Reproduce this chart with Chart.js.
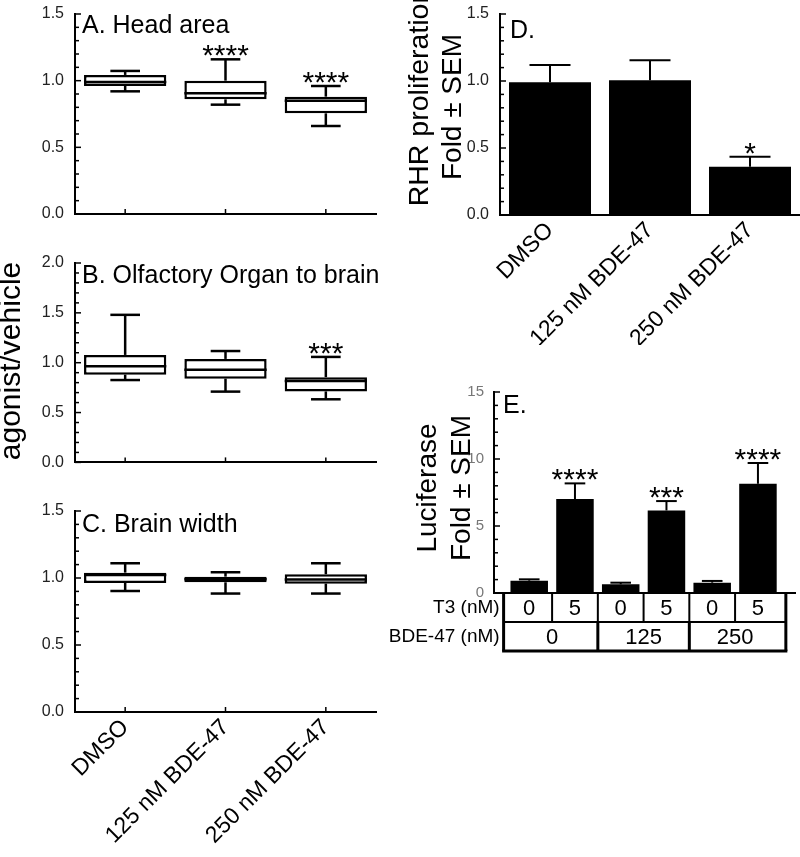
<!DOCTYPE html>
<html>
<head>
<meta charset="utf-8">
<script src="https://cdn.jsdelivr.net/npm/chart.js@4.4.0/dist/chart.umd.min.js"></script>
<style>
  body { margin: 0; background: #fff; }
  #wrap { position: relative; width: 800px; height: 857px; overflow: hidden; }
  canvas { position: absolute; }
</style>
</head>
<body>
<div id="wrap">
  <canvas id="panelA" width="390" height="230" style="left:0;top:0"></canvas>
  <canvas id="panelB" width="390" height="245" style="left:0;top:230px"></canvas>
  <canvas id="panelC" width="390" height="382" style="left:0;top:475px"></canvas>
  <canvas id="panelD" width="410" height="345" style="left:390px;top:0"></canvas>
  <canvas id="panelE" width="410" height="290" style="left:390px;top:380px"></canvas>
</div>
<script>
//data
const groups = ['DMSO', '125 nM BDE-47', '250 nM BDE-47'];

// box plots: whisker low, q1, median, q3, whisker high
const headLow = [0.92, 0.82, 0.66];
const headQ1 = [0.96, 0.86, 0.755];
const headMed = [0.99, 0.905, 0.85];
const headQ3 = [1.043, 1.0, 0.88];
const headHigh = [1.073, 1.16, 0.96];
const headStars = ['', '****', '****'];

const olfLow = [0.826, 0.71, 0.633];
const olfQ1 = [0.88, 0.84, 0.712];
const olfMed = [0.965, 0.93, 0.816];
const olfQ3 = [1.078, 1.038, 0.855];
const olfHigh = [1.48, 1.117, 1.058];
const olfStars = ['', '', '***'];

const brainLow = [0.903, 0.884, 0.884];
const brainQ1 = [0.963, 0.968, 0.958];
const brainMed = [1.022, 0.99, 0.988];
const brainQ3 = [1.04, 1.01, 1.028];
const brainHigh = [1.11, 1.043, 1.11];
const brainStars = ['', '', ''];

// D. RHR proliferation
const rhrMean = [0.99, 1.005, 0.36];
const rhrSem = [0.13, 0.15, 0.075];
const rhrStars = ['', '', '*'];

// E. luciferase
const t3Dose = ['0', '5', '0', '5', '0', '5'];
const bdeDose = ['0', '125', '250'];
const lucMean = [0.92, 7.01, 0.65, 6.16, 0.77, 8.15];
const lucSem = [0.10, 1.17, 0.12, 0.70, 0.13, 1.55];
const lucStars = ['', '****', '', '***', '', '****'];

const FONT = "'Liberation Sans', Arial, sans-serif";
Chart.defaults.font.family = FONT;
Chart.defaults.color = '#000';

function isMajor(v, step) {
  return Math.abs(v / step - Math.round(v / step)) < 1e-6;
}

function line(ctx, x1, y1, x2, y2) {
  ctx.beginPath();
  ctx.moveTo(x1, y1);
  ctx.lineTo(x2, y2);
  ctx.stroke();
}

// ticks that point into the plot
function inTicks(major, xTicks) {
  return {
    id: 'inTicks',
    afterDraw(chart) {
      const ctx = chart.ctx, area = chart.chartArea;
      const ys = chart.scales.y;
      ctx.save();
      ctx.strokeStyle = '#000';
      ctx.lineWidth = 1.5;
      ys.ticks.forEach(t => {
        const py = ys.getPixelForValue(t.value);
        line(ctx, area.left, py, area.left + (isMajor(t.value, major) ? 6 : 4), py);
      });
      if (xTicks) {
        const xs = chart.scales.x;
        xs.ticks.forEach((t, i) => {
          const px = xs.getPixelForTick(i);
          line(ctx, px, area.bottom, px, area.bottom - 5);
        });
      }
      ctx.restore();
    }
  };
}

function texts(items) {
  return {
    id: 'texts',
    afterDraw(chart) {
      const ctx = chart.ctx;
      items.forEach(t => {
        ctx.save();
        ctx.font = t.size + 'px ' + FONT;
        ctx.fillStyle = '#000';
        ctx.textAlign = t.align || 'left';
        ctx.textBaseline = t.baseline || 'alphabetic';
        ctx.translate(t.x, t.y);
        if (t.rot) ctx.rotate(t.rot * Math.PI / 180);
        ctx.fillText(t.text, 0, 0);
        ctx.restore();
      });
    }
  };
}

function drawStars(ctx, s, x, y) {
  if (!s) return;
  ctx.font = '30px ' + FONT;
  ctx.fillStyle = '#000';
  ctx.textAlign = 'center';
  ctx.textBaseline = 'alphabetic';
  ctx.fillText(s, x, y + 6);
}

function boxExtras(low, med, high, stars) {
  return {
    id: 'boxExtras',
    afterDatasetsDraw(chart) {
      const ctx = chart.ctx, ys = chart.scales.y;
      ctx.save();
      ctx.strokeStyle = '#000';
      ctx.lineWidth = 2.5;
      chart.getDatasetMeta(0).data.forEach((bar, i) => {
        const p = bar.getProps(['x', 'y', 'base', 'width'], true);
        const top = Math.min(p.y, p.base), bottom = Math.max(p.y, p.base);
        const half = p.width / 2, cap = p.width * 0.18;
        const pm = ys.getPixelForValue(med[i]);
        const ph = ys.getPixelForValue(high[i]);
        const pl = ys.getPixelForValue(low[i]);
        line(ctx, p.x - half, pm, p.x + half, pm);
        line(ctx, p.x, top, p.x, ph);
        line(ctx, p.x - cap, ph, p.x + cap, ph);
        line(ctx, p.x, bottom, p.x, pl);
        line(ctx, p.x - cap, pl, p.x + cap, pl);
        drawStars(ctx, stars[i], p.x, ph);
      });
      ctx.restore();
    }
  };
}

function errExtras(mean, sem, stars, capRatio) {
  return {
    id: 'errExtras',
    afterDatasetsDraw(chart) {
      const ctx = chart.ctx, ys = chart.scales.y;
      ctx.save();
      ctx.strokeStyle = '#000';
      ctx.lineWidth = 2;
      chart.getDatasetMeta(0).data.forEach((bar, i) => {
        const p = bar.getProps(['x', 'y', 'width'], true);
        const pe = ys.getPixelForValue(mean[i] + sem[i]);
        const cap = p.width * capRatio / 2;
        line(ctx, p.x, p.y, p.x, pe);
        line(ctx, p.x - cap, pe, p.x + cap, pe);
        drawStars(ctx, stars[i], p.x, pe);
      });
      ctx.restore();
    }
  };
}

function doseTable() {
  return {
    id: 'doseTable',
    afterDraw(chart) {
      const ctx = chart.ctx, xs = chart.scales.x, area = chart.chartArea;
      const top = area.bottom, mid = top + 29, bot = top + 58;
      const left = xs.getPixelForValue(-0.56), right = xs.getPixelForValue(5.61);
      ctx.save();
      ctx.strokeStyle = '#000';
      ctx.fillStyle = '#000';
      ctx.lineWidth = 2;
      line(ctx, left, mid, right, mid);
      ctx.font = '22px ' + FONT;
      ctx.textAlign = 'center';
      ctx.textBaseline = 'middle';
      t3Dose.forEach((d, i) => {
        if (i > 0) {
          const px = xs.getPixelForValue(i - 0.5);
          line(ctx, px, top, px, mid);
        }
        ctx.fillText(d, xs.getPixelForValue(i), (top + mid) / 2 + 1);
      });
      ctx.lineWidth = 3;
      bdeDose.forEach((d, g) => {
        if (g > 0) {
          const px = xs.getPixelForValue(g * 2 - 0.5);
          line(ctx, px, mid, px, bot);
        }
        ctx.fillText(d, xs.getPixelForValue(g * 2 + 0.5), (mid + bot) / 2 + 1);
      });
      line(ctx, left, top, left, bot);
      line(ctx, right, top, right, bot);
      line(ctx, left - 1.5, bot, right + 1.5, bot);
      ctx.font = '19px ' + FONT;
      ctx.textAlign = 'right';
      ctx.fillText('T3 (nM)', left - 4, (top + mid) / 2);
      ctx.fillText('BDE-47 (nM)', left - 4, (mid + bot) / 2);
      ctx.restore();
    }
  };
}

function boxChart(id, q1, q3, low, med, high, stars, yMax, top, xh, showLabels, items) {
  return new Chart(document.getElementById(id), {
    type: 'bar',
    data: {
      labels: groups,
      datasets: [{
        data: q1.map((v, i) => [v, q3[i]]),
        backgroundColor: '#fff',
        borderColor: '#000',
        borderWidth: 2.5,
        borderSkipped: false,
        barPercentage: 0.82,
        categoryPercentage: 1
      }]
    },
    options: {
      responsive: false,
      animation: false,
      layout: { padding: { top: top, right: 14, left: 0, bottom: 0 } },
      plugins: { legend: { display: false }, tooltip: { enabled: false } },
      scales: {
        x: {
          grid: { display: false },
          border: { color: '#000', width: 2 },
          ticks: { display: showLabels, autoSkip: false, minRotation: 45, maxRotation: 45, padding: -6, color: '#000', font: { size: 23 } },
          afterFit: s => { s.height = xh; }
        },
        y: {
          min: 0,
          max: yMax,
          grid: { display: false },
          border: { color: '#000', width: 2 },
          ticks: { stepSize: 0.1, autoSkip: false, padding: 3, color: '#222', font: { size: 16 }, callback: v => isMajor(v, 0.5) ? v.toFixed(1) : '' },
          afterFit: s => { s.width = 75; }
        }
      }
    },
    plugins: [inTicks(0.5, true), boxExtras(low, med, high, stars), texts(items)]
  });
}

boxChart('panelA', headQ1, headQ3, headLow, headMed, headHigh, headStars, 1.5, 14, 16, false, [
  { text: 'A. Head area', x: 82, y: 33, size: 25 }
]);
boxChart('panelB', olfQ1, olfQ3, olfLow, olfMed, olfHigh, olfStars, 2.0, 33, 11, false, [
  { text: 'B. Olfactory Organ to brain', x: 82, y: 53, size: 25 },
  { text: 'agonist/vehicle', x: 12, y: 131, size: 30, rot: -90, align: 'center', baseline: 'middle' }
]);
boxChart('panelC', brainQ1, brainQ3, brainLow, brainMed, brainHigh, brainStars, 1.5, 36, 145, true, [
  { text: 'C. Brain width', x: 82, y: 57, size: 25 }
]);

//panel D
new Chart(document.getElementById('panelD'), {
  type: 'bar',
  data: {
    labels: groups,
    datasets: [{
      data: rhrMean,
      backgroundColor: '#000',
      barPercentage: 0.82,
      categoryPercentage: 1
    }]
  },
  options: {
    responsive: false,
    animation: false,
    layout: { padding: { top: 14, right: 0, left: 0, bottom: 0 } },
    plugins: { legend: { display: false }, tooltip: { enabled: false } },
    scales: {
      x: {
        grid: { display: false },
        border: { color: '#000', width: 2 },
        ticks: { autoSkip: false, minRotation: 45, maxRotation: 45, padding: -6, color: '#000', font: { size: 23 } },
        afterFit: s => { s.height = 130; }
      },
      y: {
        min: 0,
        max: 1.5,
        grid: { display: false },
        border: { color: '#000', width: 2 },
        ticks: { stepSize: 0.1, autoSkip: false, padding: 3, color: '#222', font: { size: 16 }, callback: v => isMajor(v, 0.5) ? v.toFixed(1) : '' },
        afterFit: s => { s.width = 110; }
      }
    }
  },
  plugins: [inTicks(0.5, false), errExtras(rhrMean, rhrSem, rhrStars, 0.5), texts([
    { text: 'D.', x: 120, y: 38, size: 25 },
    { text: 'RHR proliferation', x: 30, y: 97, size: 28.5, rot: -90, align: 'center', baseline: 'middle' },
    { text: 'Fold ± SEM', x: 63, y: 107, size: 28, rot: -90, align: 'center', baseline: 'middle' }
  ])]
});

//panel E
new Chart(document.getElementById('panelE'), {
  type: 'bar',
  data: {
    datasets: [{
      data: lucMean.map((v, i) => ({ x: i, y: v })),
      backgroundColor: '#000',
      barPercentage: 0.82,
      categoryPercentage: 1
    }]
  },
  options: {
    responsive: false,
    animation: false,
    layout: { padding: { top: 12, right: 5, left: 0, bottom: 0 } },
    plugins: { legend: { display: false }, tooltip: { enabled: false } },
    scales: {
      x: {
        type: 'linear',
        offset: false,
        min: -0.77,
        max: 5.81,
        grid: { display: false },
        border: { color: '#000', width: 2 },
        ticks: { display: false },
        afterFit: s => { s.height = 77; }
      },
      y: {
        min: 0,
        max: 15,
        grid: { display: false },
        border: { color: '#000', width: 2 },
        ticks: { stepSize: 1, autoSkip: false, padding: 2, color: '#777', font: { size: 15 }, callback: v => isMajor(v, 5) ? String(v) : '' },
        afterFit: s => { s.width = 104; }
      }
    }
  },
  plugins: [inTicks(5, false), errExtras(lucMean, lucSem, lucStars, 0.55), doseTable(), texts([
    { text: 'E.', x: 113, y: 33, size: 25 },
    { text: 'Luciferase', x: 38, y: 108, size: 28, rot: -90, align: 'center', baseline: 'middle' },
    { text: 'Fold ± SEM', x: 72, y: 108, size: 28, rot: -90, align: 'center', baseline: 'middle' }
  ])]
});
</script>
</body>
</html>
